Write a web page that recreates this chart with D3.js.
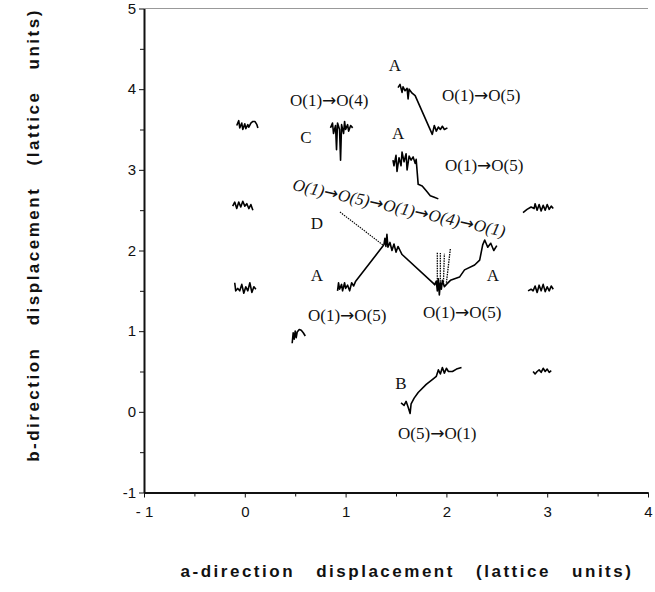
<!DOCTYPE html>
<html>
<head>
<meta charset="utf-8">
<script src="https://cdn.jsdelivr.net/npm/d3@7"></script>
<style>
  body { margin: 0; background: #fff; }
  .tick text { font-family: "Liberation Sans", Arial, sans-serif; font-size: 15px; fill: #111; }
  .tick line, .domain { stroke: #111; }
  .note { font-family: "Liberation Serif", "Times New Roman", serif; font-size: 17px; fill: #111; }
  .arrow { font-family: "DejaVu Sans", sans-serif; font-size: 17px; font-style: normal; }
  .title { font-family: "Liberation Sans", Arial, sans-serif; font-size: 17px; font-weight: bold; fill: #111; letter-spacing: 2.5px; word-spacing: 14px; }
</style>
</head>
<body>
<svg id="chart" width="655" height="592"></svg>
<script>
var w = 655, h = 592;

// axis ticks
var xTicks = [-1, 0, 1, 2, 3, 4];
var yTicks = [-1, 0, 1, 2, 3, 4, 5];
var xTickLabels = ["- 1", "0", "1", "2", "3", "4"];
var yTickLabels = ["-1", "0", "1", "2", "3", "4", "5"];

// trajectories (a, b) in lattice units
var siteTopLeft = [[-0.08,3.55],[-0.06,3.61],[-0.05,3.52],[-0.03,3.58],[-0.02,3.5],[0.0,3.57],[0.01,3.51],[0.03,3.56],[0.04,3.53],[0.06,3.58],[0.08,3.6],[0.1,3.6],[0.12,3.56],[0.13,3.52]];
var siteMidLeft = [[-0.12,2.55],[-0.1,2.6],[-0.08,2.52],[-0.06,2.6],[-0.04,2.54],[-0.02,2.61],[0,2.55],[0.02,2.58],[0.04,2.52],[0.06,2.57],[0.08,2.5]];
var siteLowLeft = [[-0.1,1.6],[-0.09,1.5],[-0.07,1.53],[-0.05,1.5],[-0.03,1.58],[-0.01,1.47],[0.01,1.55],[0.03,1.5],[0.05,1.6],[0.07,1.48],[0.09,1.55],[0.11,1.52]];
var siteHalf = [[0.47,0.85],[0.48,0.98],[0.49,0.9],[0.5,1.0],[0.51,0.92],[0.52,0.99],[0.54,1.02],[0.56,1.01],[0.58,0.98],[0.6,0.94]];
var trajC = [[0.85,3.52],[0.87,3.58],[0.88,3.45],[0.9,3.55],[0.91,3.25],[0.92,3.58],[0.94,3.5],[0.95,3.12],[0.96,3.56],[0.98,3.45],[0.99,3.6],[1.0,3.5],[1.02,3.56],[1.03,3.48],[1.05,3.55],[1.07,3.52]];
var trajATop = [[1.52,4.02],[1.54,4.06],[1.56,3.96],[1.57,4.03],[1.59,3.98],[1.61,4.01],[1.62,3.88],[1.63,4.0],[1.66,3.95],[1.69,3.92],[1.86,3.44],[1.88,3.55],[1.9,3.48],[1.92,3.53],[1.94,3.5],[1.96,3.54],[1.98,3.5],[2.01,3.52]];
var trajAMid = [[1.47,3.12],[1.48,3.05],[1.5,3.18],[1.51,2.98],[1.53,3.15],[1.55,3.05],[1.56,3.22],[1.58,3.1],[1.6,3.2],[1.61,3.0],[1.63,3.17],[1.65,3.12],[1.67,3.16],[1.69,3.08],[1.7,3.13],[1.72,2.82],[1.76,2.8],[1.8,2.74],[1.84,2.68],[1.88,2.66],[1.92,2.64]];
var trajD = [[0.944,2.477],[1.371,2.068]];
var trajALeft = [[0.92,1.5],[0.93,1.6],[0.94,1.52],[0.96,1.58],[0.97,1.5],[0.99,1.6],[1.0,1.53],[1.02,1.57],[1.04,1.5],[1.06,1.6],[1.08,1.56],[1.1,1.62],[1.38,2.07]];
var trajNode = [[1.38,2.07],[1.39,2.15],[1.4,2.05],[1.41,2.2],[1.42,2.04],[1.44,2.1],[1.46,2.0],[1.48,2.08],[1.5,1.98],[1.52,2.05],[1.54,2.0],[1.56,1.95],[1.89,1.57]];
var trajARight = [[1.88,1.57],[1.9,1.62],[1.91,1.5],[1.92,1.65],[1.93,1.45],[1.94,1.6],[1.95,1.52],[1.96,1.63],[1.98,1.55],[2.0,1.58],[2.04,1.63],[2.13,1.67],[2.18,1.76],[2.28,1.82],[2.33,1.88],[2.36,2.07],[2.38,2.13],[2.41,2.04],[2.44,2.09],[2.47,2.0],[2.5,2.06]];
var spikes = [[[1.91,1.55],[1.91,1.98]],[[1.94,1.55],[1.94,1.97]],[[1.97,1.58],[1.98,1.96]],[[2.0,1.6],[2.04,2.03]]];
var siteRightMid = [[2.76,2.47],[2.8,2.51],[2.84,2.54],[2.87,2.52],[2.88,2.58],[2.9,2.5],[2.92,2.57],[2.94,2.49],[2.96,2.56],[2.98,2.5],[3.0,2.57],[3.02,2.51],[3.04,2.55],[3.06,2.52]];
var siteRightLow = [[2.81,1.5],[2.84,1.52],[2.86,1.5],[2.88,1.56],[2.9,1.48],[2.92,1.57],[2.94,1.5],[2.96,1.58],[2.98,1.49],[3.0,1.55],[3.02,1.5],[3.04,1.56],[3.06,1.52]];
var siteRightHalf = [[2.86,0.5],[2.88,0.47],[2.9,0.5],[2.92,0.52],[2.94,0.49],[2.96,0.54],[2.98,0.5],[3.0,0.53],[3.02,0.49],[3.04,0.51]];
var trajB = [[1.55,0.11],[1.58,0.08],[1.6,0.13],[1.62,0.06],[1.64,-0.02],[1.65,0.1],[1.68,0.17],[1.72,0.24],[1.8,0.34],[1.86,0.4],[1.9,0.44],[1.92,0.52],[1.94,0.47],[1.96,0.55],[1.98,0.48],[2.0,0.54],[2.02,0.5],[2.06,0.5],[2.1,0.53],[2.15,0.55]];

var solidTraces = [siteTopLeft, siteMidLeft, siteLowLeft, siteHalf, trajC, trajATop, trajAMid,
    trajALeft, trajNode, trajARight, siteRightMid, siteRightLow, siteRightHalf, trajB];

// labels: text, a, b, anchor
var notes = [
    ["A", 1.49, 4.30, "middle"],
    ["O(1)→O(5)", 1.956, 3.93, "start"],
    ["O(1)→O(4)", 0.448, 3.865, "start"],
    ["C", 0.607, 3.41, "middle"],
    ["A", 1.52, 3.456, "middle"],
    ["O(1)→O(5)", 1.986, 3.06, "start"],
    ["D", 0.716, 2.34, "middle"],
    ["A", 0.716, 1.696, "middle"],
    ["O(1)→O(5)", 0.627, 1.20, "start"],
    ["O(1)→O(5)", 1.768, 1.237, "start"],
    ["A", 2.462, 1.696, "middle"],
    ["B", 1.55, 0.357, "middle"],
    ["O(5)→O(1)", 1.52, -0.263, "start"]
];
var slantNote = ["O(1)→O(5)→O(1)→O(4)→O(1)", 0.478, 2.824];

var svg = d3.select("#chart");

var xScale = d3.scaleLinear().domain([-1, 4]).range([144, 648]);
var yScale = d3.scaleLinear().domain([-1, 5]).range([492.5, 8.5]);

// frame top line
svg.append("line")
    .attr("x1", xScale(-1)).attr("x2", xScale(4))
    .attr("y1", yScale(5)).attr("y2", yScale(5))
    .style("stroke", "#999").style("stroke-width", 1);

// minor ticks
svg.append("g")
    .attr("transform", `translate(0,${yScale(-1)})`)
    .call(d3.axisBottom(xScale).tickValues(d3.range(-0.5, 4, 1)).tickSize(4).tickFormat(""))
    .call(g => g.select(".domain").remove());
svg.append("g")
    .attr("transform", `translate(${xScale(-1)},0)`)
    .call(d3.axisLeft(yScale).tickValues(d3.range(-0.5, 5, 1)).tickSize(4).tickFormat(""))
    .call(g => g.select(".domain").remove());

// major axes
var xAxis = svg.append("g")
    .attr("transform", `translate(0,${yScale(-1)})`)
    .call(d3.axisBottom(xScale).tickValues(xTicks).tickSize(5).tickSizeOuter(0)
        .tickFormat((d, i) => xTickLabels[i]));
xAxis.selectAll(".tick text").attr("dy", "1.1em");
xAxis.select(".domain").style("stroke-width", 2);

var yAxis = svg.append("g")
    .attr("transform", `translate(${xScale(-1)},0)`)
    .call(d3.axisLeft(yScale).tickValues(yTicks).tickSize(5).tickSizeOuter(0)
        .tickFormat((d, i) => yTickLabels[i]));
yAxis.selectAll(".tick text").attr("x", -8);
yAxis.select(".domain").style("stroke-width", 2);

var line = d3.line().x(d => xScale(d[0])).y(d => yScale(d[1]));

svg.selectAll(".trace")
    .data(solidTraces)
    .enter().append("path")
    .attr("class", "trace")
    .attr("d", line)
    .style("fill", "none")
    .style("stroke", "#000")
    .style("stroke-width", 1.6)
    .style("stroke-linejoin", "round");

// dotted fast jump D
svg.append("path")
    .datum(trajD)
    .attr("d", line)
    .style("fill", "none")
    .style("stroke", "#000")
    .style("stroke-width", 1.1)
    .style("stroke-dasharray", "1.5,1");

svg.selectAll(".spike")
    .data(spikes)
    .enter().append("path")
    .attr("class", "spike")
    .attr("d", line)
    .style("fill", "none")
    .style("stroke", "#000")
    .style("stroke-width", 1.3)
    .style("stroke-dasharray", "1.5,1");

// write "O(1)→O(5)" with the arrow in a font that draws it full size
function fillNote(sel, str) {
    str.split("→").forEach(function(part, i) {
        if (i > 0) sel.append("tspan").attr("class", "arrow").text("→");
        sel.append("tspan").text(part);
    });
}

svg.selectAll(".note")
    .data(notes)
    .enter().append("text")
    .attr("class", "note")
    .attr("x", d => xScale(d[1]))
    .attr("y", d => yScale(d[2]))
    .attr("dy", "0.35em")
    .attr("text-anchor", d => d[3])
    .each(function(d) { fillNote(d3.select(this), d[0]); });

var slant = svg.append("text")
    .attr("class", "note")
    .attr("transform", `translate(${xScale(slantNote[1])},${yScale(slantNote[2])}) rotate(12.5)`)
    .attr("dy", "0.35em")
    .style("font-style", "italic");
fillNote(slant, slantNote[0]);

// axis titles
svg.append("text")
    .attr("class", "title")
    .attr("x", 407)
    .attr("y", 571)
    .attr("dy", "0.35em")
    .attr("text-anchor", "middle")
    .text("a-direction displacement (lattice units)");

svg.append("text")
    .attr("class", "title")
    .attr("transform", "translate(33,235) rotate(-90)")
    .attr("dy", "0.35em")
    .attr("text-anchor", "middle")
    .text("b-direction displacement (lattice units)");
</script>
</body>
</html>
